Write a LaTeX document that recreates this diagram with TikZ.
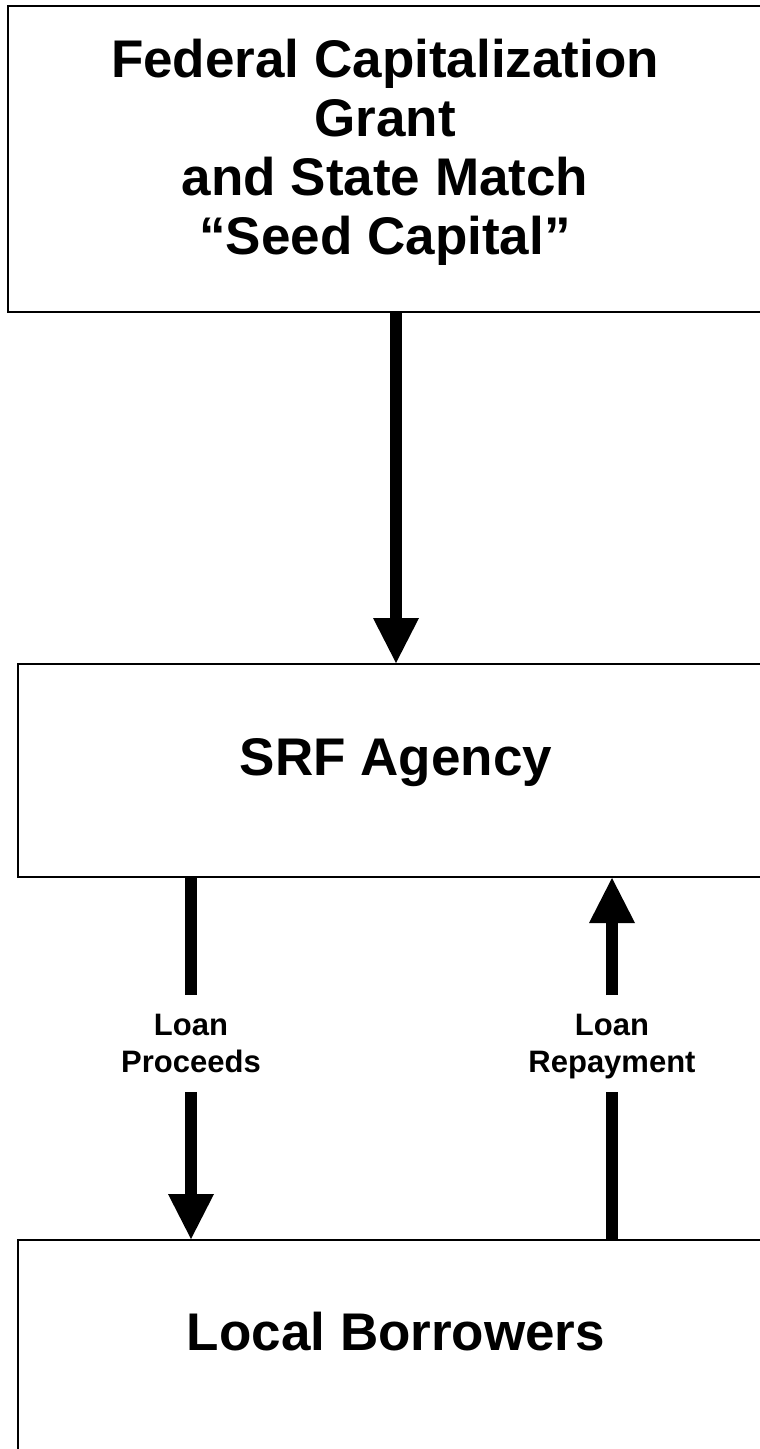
\documentclass[tikz,border=0pt]{standalone}
\usepackage{fontspec}
\setmainfont{Liberation Sans}
\usetikzlibrary{arrows.meta}
\tikzset{
  box/.style={draw=black, line width=2pt, fill=white, inner sep=0pt, rectangle},
  bigtext/.style={font=\fontsize{53}{58.8}\selectfont\bfseries, align=center, inner sep=0pt, anchor=base},
  labeltext/.style={font=\fontsize{31}{37}\selectfont\bfseries, align=center, inner sep=0pt, anchor=base},
  shaft/.style={line width=12.5pt, black},
  flowarrow/.style={line width=12.5pt, black, -{Triangle[length=45pt,width=46pt,line width=0pt]}}
}
\begin{document}
\begin{tikzpicture}[x=1pt,y=-1pt]
\useasboundingbox (0,0) rectangle (760,1449);
\clip (0,0) rectangle (760,1449);
\fill[white] (0,0) rectangle (760,1449);
% boxes
\node[box, minimum width=754pt, minimum height=306pt] (fed) at (385,159) {};
\node[box, minimum width=756pt, minimum height=213pt] (srf) at (396,770.5) {};
\node[box, minimum width=756pt, minimum height=230pt] (lb) at (396,1355) {};
% texts (base = baseline of last line)
\node[bigtext] (fedtext) at (385,254) {Federal Capitalization\\Grant\\and State Match\\“Seed Capital”};
\node[bigtext] (srftext) at (396,775) {SRF Agency};
\node[bigtext] (lbtext) at (396,1350) {Local Borrowers};
% labels
\node[labeltext] (lp) at (191,1072) {Loan\\Proceeds};
\node[labeltext] (lr) at (612,1072) {Loan\\Repayment};
% gap coordinates
\coordinate (lpt) at (191,995);
\coordinate (lpb) at (191,1092);
\coordinate (rpt) at (612,995);
\coordinate (rpb) at (612,1092);
% connectors
\draw[flowarrow] (fed.south -| srf.north) -- (srf.north);
\draw[shaft] (srf.south -| lpt) -- (lpt);
\draw[flowarrow] (lpb) -- (lb.north -| lpb);
\draw[shaft] (lb.north -| rpb) -- (rpb);
\draw[flowarrow] (rpt) -- (srf.south -| rpt);
\end{tikzpicture}
\end{document}
